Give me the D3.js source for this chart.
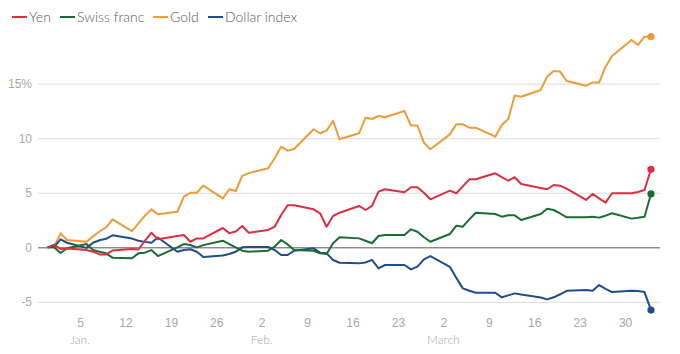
<!DOCTYPE html>
<html>
<head>
<meta charset="utf-8">
<script src="https://cdn.jsdelivr.net/npm/d3@7"></script>
<style>
  body { margin: 0; background: #fff; }
  svg { display: block; font-family: Lato, "Open Sans", sans-serif; }
</style>
</head>
<body>
<svg id="chart" width="680" height="354"></svg>
<script>
// trading days, Dec 31 2024 -> Apr 3 2025
const dates = [
  "2024-12-31","2025-01-01","2025-01-02","2025-01-03",
  "2025-01-06","2025-01-07","2025-01-08","2025-01-09","2025-01-10",
  "2025-01-13","2025-01-14","2025-01-15","2025-01-16","2025-01-17",
  "2025-01-20","2025-01-21","2025-01-22","2025-01-23","2025-01-24",
  "2025-01-27","2025-01-28","2025-01-29","2025-01-30","2025-01-31",
  "2025-02-03","2025-02-04","2025-02-05","2025-02-06","2025-02-07",
  "2025-02-10","2025-02-11","2025-02-12","2025-02-13","2025-02-14",
  "2025-02-17","2025-02-18","2025-02-19","2025-02-20","2025-02-21",
  "2025-02-24","2025-02-25","2025-02-26","2025-02-27","2025-02-28",
  "2025-03-03","2025-03-04","2025-03-05","2025-03-06","2025-03-07",
  "2025-03-10","2025-03-11","2025-03-12","2025-03-13","2025-03-14",
  "2025-03-17","2025-03-18","2025-03-19","2025-03-20","2025-03-21",
  "2025-03-24","2025-03-25","2025-03-26","2025-03-27","2025-03-28",
  "2025-03-31","2025-04-01","2025-04-02","2025-04-03"
];

const yen = [
  0, 0.25, -0.15, -0.1,
  -0.25, -0.4, -0.65, -0.65, -0.3,
  -0.15, -0.2, 0.6, 1.34, 0.75,
  1.04, 1.13, 0.51, 0.82, 0.82,
  1.77, 1.3, 1.45, 1.95, 1.34,
  1.59, 1.89, 2.96, 3.85, 3.85,
  3.48, 3.12, 1.89, 2.87, 3.17,
  3.79, 3.42, 3.79, 5.1, 5.32,
  5.04, 5.5, 5.5, 5.0, 4.4,
  5.19, 4.95, 5.59, 6.23, 6.23,
  6.78, 6.44, 6.1, 6.42, 5.8,
  5.44, 5.32, 5.71, 5.65, 5.37,
  4.34, 4.89, 4.49, 4.09, 4.95,
  4.95, 5.07, 5.25, 7.15
];

const swissFranc = [
  0, 0, -0.52, -0.09,
  0.3, -0.25, -0.4, -0.55, -0.95,
  -1.0, -0.55, -0.49, -0.25, -0.8,
  0, 0.3, 0.21, 0, 0.2,
  0.61, 0.3, 0, -0.31, -0.4,
  -0.31, 0.06, 0.67, 0.27, -0.25,
  -0.31, -0.55, -0.61, 0.37, 0.92,
  0.82, 0.6, 0.37, 1.04, 1.13,
  1.13, 1.65, 1.43, 0.92, 0.51,
  1.22, 1.98, 1.89, 2.56, 3.17,
  3.05, 2.81, 2.93, 2.93, 2.5,
  3.05, 3.54, 3.42, 3.1, 2.75,
  2.75, 2.81, 2.72, 2.9, 3.12,
  2.63, 2.7, 2.81, 4.89
];

const gold = [
  0, 0.05, 1.28, 0.67,
  0.51, 1.0, 1.45, 1.8, 2.57,
  1.49, 2.2, 2.9, 3.48, 3.02,
  3.26, 4.64, 5.0, 5.0, 5.65,
  4.49, 5.32, 5.16, 6.54, 6.8,
  7.24, 8.16, 9.22, 8.86, 9.01,
  10.82, 10.45, 10.69, 11.6, 9.9,
  10.45, 11.88, 11.76, 12.03, 11.92,
  12.49, 11.15, 11.15, 9.59, 8.98,
  10.35, 11.27, 11.27, 10.96, 10.96,
  10.14, 11.21, 11.76, 13.9, 13.8,
  14.42, 15.64, 16.16, 16.1, 15.24,
  14.81, 15.09, 15.09, 16.55, 17.53,
  19.0, 18.54, 19.3, 19.3
];

const dollarIndex = [
  0, 0.05, 0.73, 0.42,
  -0.05, 0.42, 0.65, 0.78, 1.1,
  0.8, 0.6, 0.5, 0.42, 0.9,
  -0.4, -0.25, -0.18, -0.4, -0.88,
  -0.75, -0.61, -0.4, 0, 0.03,
  0.03, -0.25, -0.7, -0.7, -0.31,
  -0.09, -0.49, -0.55, -1.16, -1.41,
  -1.47, -1.38, -1.16, -1.93, -1.62,
  -1.62, -2.02, -1.77, -1.1, -0.8,
  -1.78, -2.8, -3.76, -3.98, -4.16,
  -4.16, -4.58, -4.4, -4.22, -4.33,
  -4.6, -4.77, -4.58, -4.3, -3.98,
  -3.92, -3.98, -3.46, -3.8, -4.1,
  -3.98, -4.0, -4.1, -5.75
];

const seriesNames = ["Yen", "Swiss franc", "Gold", "Dollar index"];
const seriesColors = ["#dc2f40", "#1c6b34", "#ee9b38", "#1f4d8a"];

const yTicks = [-5, 0, 5, 10, 15];
const xTickDates = ["2025-01-05","2025-01-12","2025-01-19","2025-01-26","2025-02-02",
  "2025-02-09","2025-02-16","2025-02-23","2025-03-02","2025-03-09","2025-03-16",
  "2025-03-23","2025-03-30"];
const monthDates = ["2025-01-05", "2025-02-02", "2025-03-02"];
const monthNames = ["Jan.", "Feb.", "March"];

const parse = d3.utcParse("%Y-%m-%d");
const svg = d3.select("#chart");

const gridLeft = 38, gridRight = 660;

const x = d3.scaleUtc()
  .domain([parse(dates[0]), parse(dates[dates.length - 1])])
  .range([47.6, 651]);

const y = d3.scaleLinear()
  .domain([-5, 15])
  .range([301.9, 83.6]);

// grid + y labels
const yAxis = svg.append("g")
  .attr("transform", "translate(" + gridLeft + ",0)")
  .call(d3.axisLeft(y)
    .tickValues(yTicks)
    .tickSize(-(gridRight - gridLeft))
    .tickPadding(6)
    .tickFormat(function(d) { return d === 15 ? "15%" : d; }));
yAxis.select(".domain").remove();
yAxis.selectAll(".tick line")
  .attr("stroke", function(d) { return d === 0 ? "#5a5a5a" : "#dcdcdc"; })
  .attr("stroke-width", 1);
yAxis.selectAll(".tick text")
  .attr("fill", "#a8a8a8")
  .style("font-size", "12px")
  .style("font-weight", 300);
// keep the zero line above the others
yAxis.selectAll(".tick").filter(function(d) { return d === 0; }).raise();

// x labels
const xAxis = svg.append("g")
  .attr("transform", "translate(0,316)")
  .call(d3.axisBottom(x)
    .tickValues(xTickDates.map(parse))
    .tickSize(0)
    .tickPadding(2)
    .tickFormat(d3.utcFormat("%-d")));
xAxis.select(".domain").remove();
xAxis.selectAll(".tick text")
  .attr("fill", "#a8a8a8")
  .style("font-size", "12px")
  .style("font-weight", 300);

svg.append("g")
  .selectAll("text")
  .data(monthDates)
  .enter()
  .append("text")
  .attr("x", function(d) { return x(parse(d)); })
  .attr("y", 344)
  .attr("text-anchor", "middle")
  .attr("fill", "#a8a8a8")
  .style("font-size", "12px")
  .style("font-weight", 300)
  .text(function(d, i) { return monthNames[i]; });

// lines
const allSeries = [yen, swissFranc, gold, dollarIndex];
const line = d3.line()
  .x(function(d, i) { return x(parse(dates[i])); })
  .y(function(d) { return y(d); });

const drawOrder = [2, 3, 1, 0];
drawOrder.forEach(function(k) {
  svg.append("path")
    .datum(allSeries[k])
    .attr("fill", "none")
    .attr("stroke", seriesColors[k])
    .attr("stroke-width", 2)
    .attr("stroke-linejoin", "round")
    .attr("d", line);
  const last = allSeries[k].length - 1;
  svg.append("circle")
    .attr("cx", x(parse(dates[last])))
    .attr("cy", y(allSeries[k][last]))
    .attr("r", 3.6)
    .attr("fill", seriesColors[k]);
});

// legend
const legendX = [12, 60, 153, 208];
const legend = svg.append("g")
  .selectAll("g")
  .data(seriesNames)
  .enter()
  .append("g")
  .attr("transform", function(d, i) { return "translate(" + legendX[i] + ",17)"; });
legend.append("line")
  .attr("x1", 0).attr("x2", 15)
  .attr("stroke", function(d, i) { return seriesColors[i]; })
  .attr("stroke-width", 2);
legend.append("text")
  .attr("x", 17)
  .attr("dy", "0.35em")
  .attr("fill", "#5a5a5a")
  .style("font-size", "14px")
  .style("font-weight", 300)
  .text(function(d) { return d; });
</script>
</body>
</html>
